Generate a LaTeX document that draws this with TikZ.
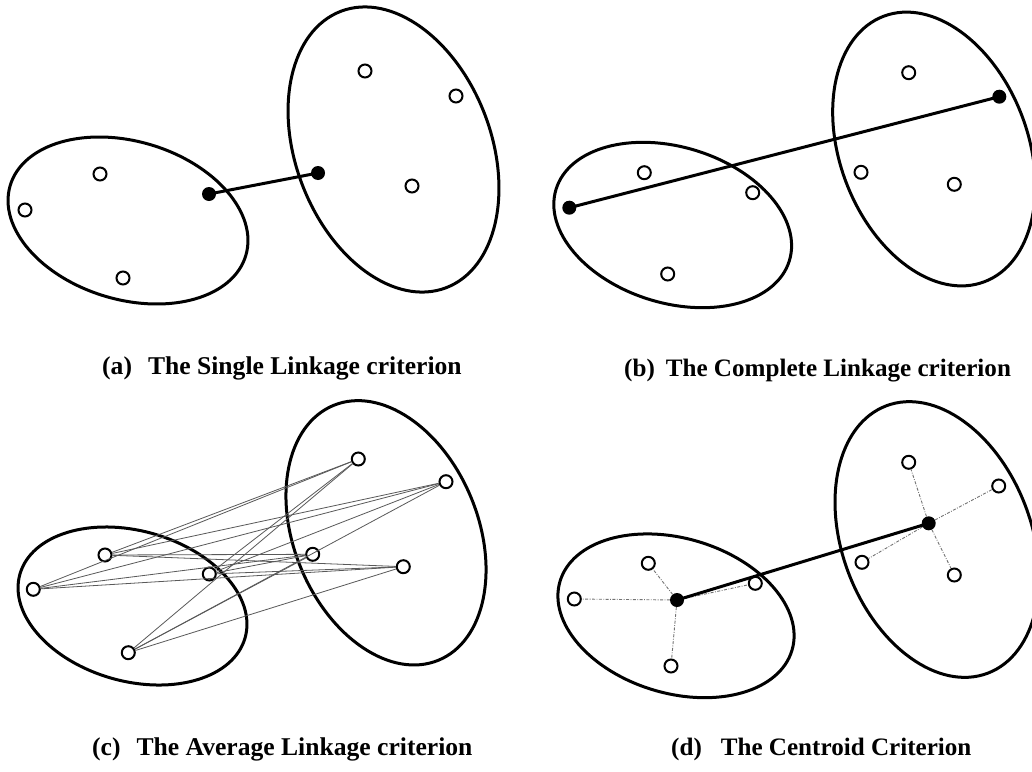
\documentclass[tikz,border=0pt]{standalone}
\usepackage{fontspec}
\setmainfont{Liberation Serif}
\begin{document}
\begin{tikzpicture}[x=1pt,y=1pt,
  clus/.style={line width=3pt},
  opt/.style={circle,draw,line width=2pt,fill=white,inner sep=0pt,minimum size=13pt},
  ctr/.style={circle,fill=black,inner sep=0pt,minimum size=14pt},
  link/.style={line width=3pt},
  avg/.style={line width=0.8pt,black!65},
  cent/.style={line width=0.9pt,black!55,dash pattern=on 3pt off 1.5pt on 0.8pt off 1.5pt},
  lab/.style={font=\fontsize{25.6}{30}\selectfont\bfseries,inner sep=0pt,anchor=base west},
  labs/.style={lab,font=\fontsize{25.1}{30}\selectfont\bfseries}]
\useasboundingbox (0,0) rectangle (1032,-771);
\clip (0,0) rectangle (1032,-771);
\fill[white] (0,0) rectangle (1032,-771);

% ---------- (a) ----------
\draw[clus,rotate around={-16.5:(128,-220.5)}] (128,-220.5) ellipse [x radius=122.9pt,y radius=79.1pt];
\draw[clus,rotate around={-69.2:(393.5,-149.5)}] (393.5,-149.5) ellipse [x radius=147.9pt,y radius=97.8pt];
\node[opt] (a1) at (100,-174) {};
\node[opt] (a2) at (25,-210) {};
\node[opt] (a3) at (123,-278) {};
\node[ctr] (ac1) at (209,-194) {};
\node[opt] (a4) at (365,-71) {};
\node[opt] (a5) at (456,-96) {};
\node[opt] (a6) at (412,-186) {};
\node[ctr] (ac2) at (318,-173) {};
\draw[link] (ac1.center) -- (ac2.center);
\node[lab] (la) at (102,-374) {(a)\hspace{16pt}The Single Linkage criterion};

% ---------- (b) ----------
\draw[clus,rotate around={-17:(672.7,-225)}] (672.7,-225) ellipse [x radius=122pt,y radius=78pt];
\draw[clus,rotate around={-69.2:(934,-149)}] (934,-149) ellipse [x radius=142pt,y radius=94pt];
\node[opt] (b1) at (644.3,-172.7) {};
\node[opt] (b2) at (752.7,-192.7) {};
\node[opt] (b3) at (667.7,-274) {};
\node[ctr] (bc1) at (569.3,-207.7) {};
\node[opt] (b4) at (908.7,-72.7) {};
\node[opt] (b5) at (861,-172.3) {};
\node[opt] (b6) at (954.3,-184.3) {};
\node[ctr] (bc2) at (999.3,-96.7) {};
\draw[link] (bc1.center) -- (bc2.center);
\node[labs] (lb) at (624,-376) {(b)\hspace{11pt}The Complete Linkage criterion};

% ---------- (c) ----------
\draw[clus,rotate around={-15.7:(132.5,-606)}] (132.5,-606) ellipse [x radius=117pt,y radius=75.2pt];
\draw[clus,rotate around={-67.6:(386,-532.8)}] (386,-532.8) ellipse [x radius=137.8pt,y radius=92.1pt];
\node[opt] (cl1) at (105,-555) {};
\node[opt] (cl2) at (33.3,-589.3) {};
\node[opt] (cl3) at (209.3,-574) {};
\node[opt] (cl4) at (128.3,-652.7) {};
\node[opt] (cr1) at (358.3,-459) {};
\node[opt] (cr2) at (446,-481.7) {};
\node[opt] (cr3) at (312.7,-554.3) {};
\node[opt] (cr4) at (403.3,-566.7) {};
\foreach \l in {cl1,cl2,cl3,cl4}{
  \foreach \r in {cr1,cr2,cr3,cr4}{
    \draw[avg] (\l) -- (\r);
  }
}
\node[lab] (lc) at (92,-755.5) {(c)\hspace{16pt}The Average Linkage criterion};

% ---------- (d) ----------
\draw[clus,rotate around={-16.5:(676,-615.8)}] (676,-615.8) ellipse [x radius=121pt,y radius=77.5pt];
\draw[clus,rotate around={-69.2:(937,-539.5)}] (937,-539.5) ellipse [x radius=143pt,y radius=94.6pt];
\node[ctr] (dc1) at (677,-600) {};
\node[ctr] (dc2) at (928.7,-523.3) {};
\node[opt] (d1) at (648.3,-563.3) {};
\node[opt] (d2) at (574.3,-599) {};
\node[opt] (d3) at (755.3,-583.3) {};
\node[opt] (d4) at (671,-666) {};
\node[opt] (d5) at (908.7,-462.3) {};
\node[opt] (d6) at (998.7,-486) {};
\node[opt] (d7) at (862,-562.3) {};
\node[opt] (d8) at (954.3,-575) {};
\foreach \p in {d1,d2,d3,d4}{\draw[cent] (dc1) -- (\p);}
\foreach \p in {d5,d6,d7,d8}{\draw[cent] (dc2) -- (\p);}
\draw[link] (dc1.center) -- (dc2.center);
\node[labs] (ld) at (671,-755) {(d)\hspace{19pt}The Centroid Criterion};
\end{tikzpicture}
\end{document}
